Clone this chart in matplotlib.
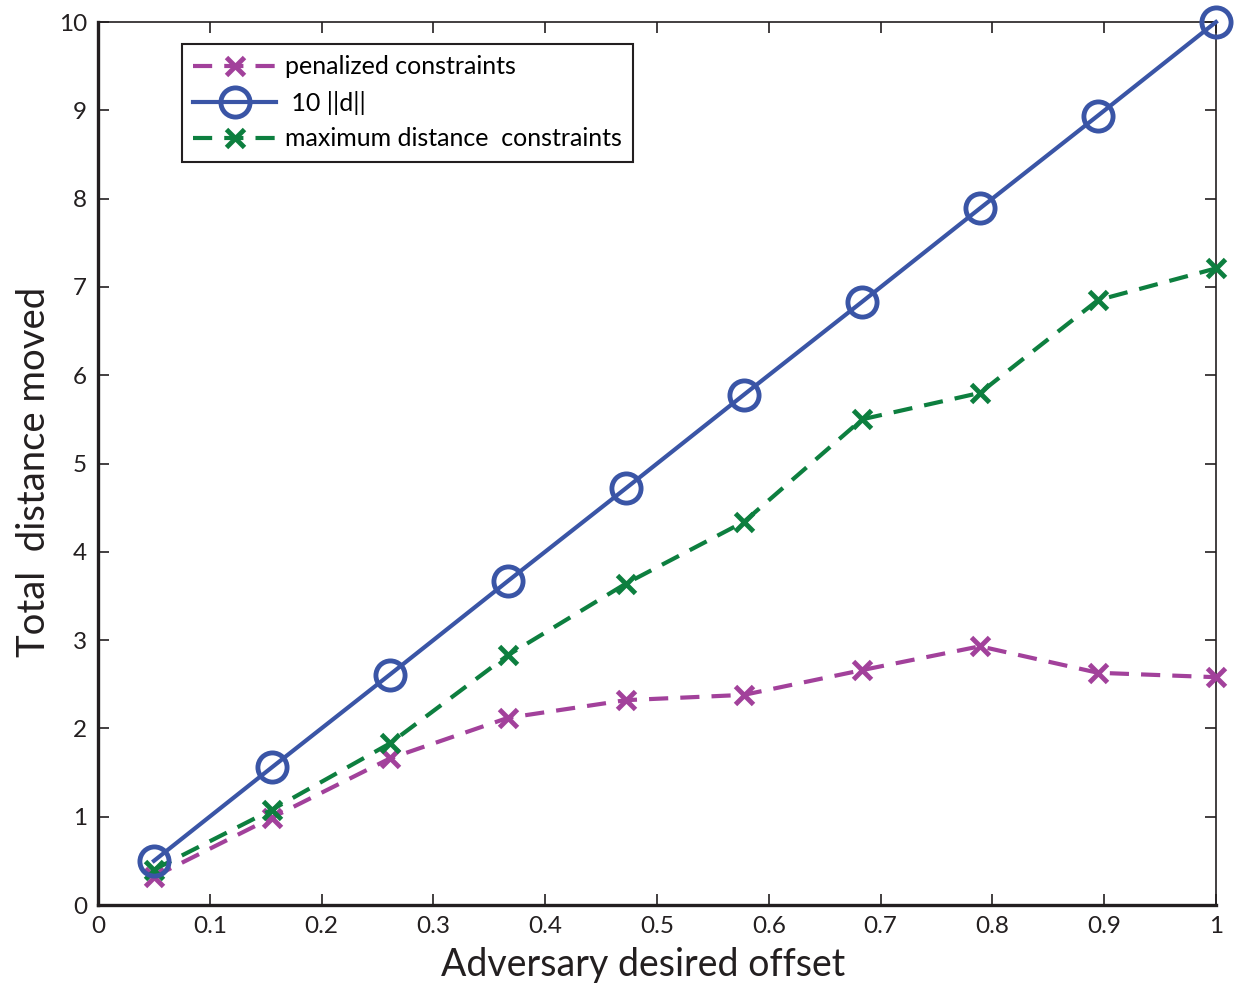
import matplotlib
matplotlib.use("Agg")
import matplotlib.pyplot as plt

# offsets and measured totals
offset = [0.05, 0.1556, 0.2611, 0.3667, 0.4722, 0.5778, 0.6833, 0.7889, 0.8944, 1.0]
norm_d10 = [0.50, 1.56, 2.61, 3.67, 4.72, 5.78, 6.83, 7.89, 8.94, 10.0]
penalized = [0.32, 0.99, 1.66, 2.12, 2.32, 2.38, 2.66, 2.93, 2.63, 2.58]
max_dist = [0.40, 1.08, 1.83, 2.83, 3.64, 4.34, 5.50, 5.80, 6.85, 7.21]

xticks = [0, 0.1, 0.2, 0.3, 0.4, 0.5, 0.6, 0.7, 0.8, 0.9, 1]
xticklabels = ["0", "0.1", "0.2", "0.3", "0.4", "0.5", "0.6", "0.7", "0.8", "0.9", "1"]
yticks = list(range(0, 11))

BLUE = "#3a55a6"
GREEN = "#0d7f3f"
MAGENTA = "#a2419b"
INK = "#231f20"

plt.rcParams["font.family"] = ["Lato", "DejaVu Sans"]

fig = plt.figure(figsize=(12.38, 9.88), dpi=100)
ax = fig.add_axes([0.0792, 0.084, 0.9030, 0.8937])

dash = (0, (4.6, 2.9))
ax.plot(offset, penalized, color=MAGENTA, lw=3.0, ls=dash, marker="x",
        ms=13, mew=3.5, label="penalized constraints", clip_on=False, zorder=3)
ax.plot(offset, norm_d10, color=BLUE, lw=3.0, ls="-", marker="o",
        ms=21, mew=3.5, mfc="none", label=" 10 ||d||", clip_on=False, zorder=4)
ax.plot(offset, max_dist, color=GREEN, lw=3.0, ls=dash, marker="x",
        ms=13, mew=3.5, label="maximum distance  constraints", clip_on=False, zorder=3)

ax.set_xlim(0, 1)
ax.set_ylim(0, 10)
ax.set_xticks(xticks)
ax.set_xticklabels(xticklabels)
ax.set_yticks(yticks)

ax.tick_params(direction="in", length=8, width=1.2, labelsize=17.5, colors=INK,
               top=True, right=True, pad=8)
for side in ["top", "right"]:
    ax.spines[side].set_linewidth(1.2)
for side in ["left", "bottom"]:
    ax.spines[side].set_linewidth(2.4)
for s in ax.spines.values():
    s.set_color(INK)

ax.set_xlabel("Adversary desired offset", fontsize=27, color=INK, labelpad=7, x=0.4875)
ax.set_ylabel("Total  distance moved", fontsize=27.5, color=INK, labelpad=5, y=0.49)

leg = ax.legend(loc="upper left", bbox_to_anchor=(0.0751, 0.975), borderaxespad=0,
                fontsize=18, frameon=True, fancybox=False, handlelength=3.3,
                handletextpad=0.35, borderpad=0.45, labelspacing=0.5)
leg.get_frame().set_edgecolor(INK)
leg.get_frame().set_linewidth(1.5)
leg.get_frame().set_alpha(1)

fig.savefig("out.png", dpi=100)
